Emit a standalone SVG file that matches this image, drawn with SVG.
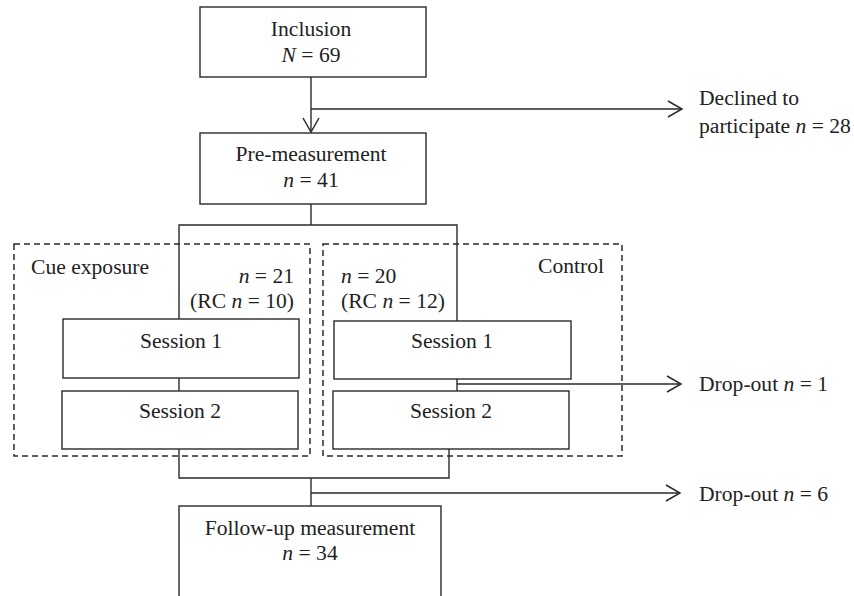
<svg xmlns="http://www.w3.org/2000/svg" width="854" height="596" viewBox="0 0 854 596">
<defs>
<style>
.box{fill:#fff;stroke:#2a2a2a;stroke-width:1.4}
.grp{fill:none;stroke:#2a2a2a;stroke-width:1.5;stroke-dasharray:6 4}
.ln{fill:none;stroke:#2a2a2a;stroke-width:1.4}
.arr{fill:none;stroke:#2a2a2a;stroke-width:1.4;marker-end:url(#ah)}
text{font-family:"Liberation Serif","Times New Roman",serif;font-size:21.6px;fill:#222}
.c{text-anchor:middle}
.r{text-anchor:end}
</style>
<marker id="ah" markerUnits="userSpaceOnUse" markerWidth="20" markerHeight="20" refX="0" refY="0" orient="auto" overflow="visible">
<path d="M-14,-8 L0,0 L-14,8" fill="none" stroke="#2a2a2a" stroke-width="1.5"/>
</marker>
</defs>
<rect width="854" height="596" fill="#fff"/>

<g id="connectors">
<line class="arr" x1="311" y1="77" x2="311" y2="132"/>
<line class="arr" x1="311" y1="109" x2="682" y2="109"/>
<polyline class="ln" points="311,204 311,225"/>
<polyline class="ln" points="179,319 179,225 457,225 457,321"/>
<line class="ln" x1="179" y1="378" x2="179" y2="391"/>
<line class="ln" x1="457" y1="379" x2="457" y2="391"/>
<line class="arr" x1="457" y1="384" x2="681" y2="384"/>
<polyline class="ln" points="179,449 179,478 449,478 449,449"/>
<line class="ln" x1="311" y1="478" x2="311" y2="506"/>
<line class="arr" x1="311" y1="493" x2="680" y2="493"/>
</g>

<g id="group-cue">
<rect class="grp" x="14" y="244" width="296" height="212"/>
<text x="31" y="274">Cue exposure</text>
<text class="r" x="294" y="283"><tspan font-style="italic">n</tspan> = 21</text>
<text class="r" x="294" y="308">(RC <tspan font-style="italic">n</tspan> = 10)</text>
</g>
<g id="group-control">
<rect class="grp" x="323" y="244" width="299" height="212"/>
<text class="r" x="604" y="273">Control</text>
<text x="341" y="283"><tspan font-style="italic">n</tspan> = 20</text>
<text x="341" y="308">(RC <tspan font-style="italic">n</tspan> = 12)</text>
</g>

<g id="inclusion">
<rect class="box" x="200" y="7" width="226" height="70"/>
<text class="c" x="311" y="36">Inclusion</text>
<text class="c" x="311" y="62"><tspan font-style="italic">N</tspan> = 69</text>
</g>
<g id="declined">
<text x="699" y="105">Declined to</text>
<text x="699" y="133">participate <tspan font-style="italic">n</tspan> = 28</text>
</g>
<g id="pre">
<rect class="box" x="200" y="133" width="226" height="71"/>
<text class="c" x="311" y="161">Pre-measurement</text>
<text class="c" x="311" y="187"><tspan font-style="italic">n</tspan> = 41</text>
</g>
<g id="cue-s1">
<rect class="box" x="63" y="319" width="236" height="59"/>
<text class="c" x="181" y="348">Session 1</text>
</g>
<g id="cue-s2">
<rect class="box" x="62" y="391" width="236" height="58"/>
<text class="c" x="180" y="418">Session 2</text>
</g>
<g id="ctl-s1">
<rect class="box" x="334" y="321" width="237" height="58"/>
<text class="c" x="452" y="348">Session 1</text>
</g>
<g id="ctl-s2">
<rect class="box" x="333" y="391" width="236" height="58"/>
<text class="c" x="451" y="418">Session 2</text>
</g>
<g id="dropout1">
<text x="699" y="391">Drop-out <tspan font-style="italic">n</tspan> = 1</text>
</g>
<g id="dropout6">
<text x="699" y="501">Drop-out <tspan font-style="italic">n</tspan> = 6</text>
</g>
<g id="followup">
<rect class="box" x="179" y="506" width="262" height="100"/>
<text class="c" x="310" y="535">Follow-up measurement</text>
<text class="c" x="310" y="560"><tspan font-style="italic">n</tspan> = 34</text>
</g>
</svg>
